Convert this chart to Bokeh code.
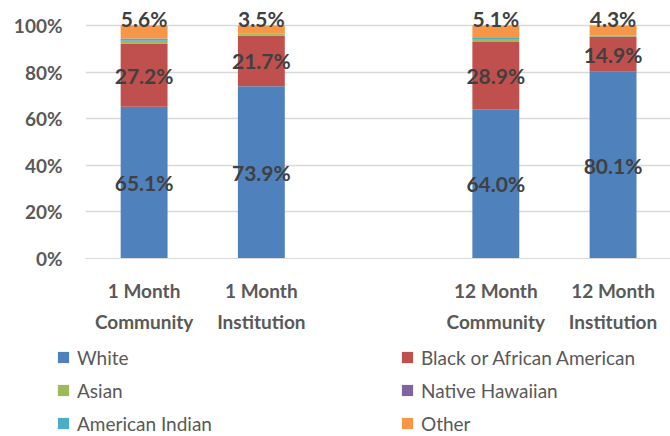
from bokeh.plotting import figure
from bokeh.models import (ColumnDataSource, Range1d, FixedTicker, Legend, LegendItem,
                          LabelSet)
from bokeh.layouts import column
from bokeh.core.properties import value
from bokeh.embed import file_html
from bokeh.resources import INLINE

# ---- data ----
categories = ["1 Month\nCommunity", "1 Month\nInstitution",
              "12 Month\nCommunity", "12 Month\nInstitution"]
series = ["White", "Black or African American", "Asian",
          "Native Hawaiian", "American Indian", "Other"]
white = [65.1, 73.9, 64.0, 80.1]
black = [27.2, 21.7, 28.9, 14.9]
asian = [1.0, 0.7, 0.9, 0.4]
native_hawaiian = [0.2, 0.1, 0.2, 0.1]
american_indian = [0.9, 0.1, 0.9, 0.2]
other = [5.6, 3.5, 5.1, 4.3]
yticks = [0, 20, 40, 60, 80, 100]

colors = ["#4F81BD", "#C0504D", "#9BBB59", "#8064A2", "#4BACC6", "#F79646"]
FONT = "Lato"

# x positions: a blank slot between the 1-month and 12-month groups
xs = [i + (1 if i >= 2 else 0) for i in range(len(categories))]

data = dict(x=xs)
values = [white, black, asian, native_hawaiian, american_indian, other]
for s, v in zip(series, values):
    data[s] = v
src = ColumnDataSource(data)

p = figure(width=670, height=351, min_border_left=85, min_border_right=0,
           min_border_top=0, min_border_bottom=93,
           x_range=Range1d(-0.5, 4.49), y_range=Range1d(0, 110.7),
           output_backend="svg", toolbar_location=None, outline_line_color=None)

rs = p.vbar_stack(series, x="x", width=0.4, source=src, color=colors, line_color=None)

# data labels
lab_x, lab_y, lab_t = [], [], []
for i, x in enumerate(xs):
    lab_x += [x, x, x]
    lab_y += [white[i] / 2, white[i] + black[i] / 2, 103.0]
    lab_t += [f"{white[i]:.1f}%", f"{black[i]:.1f}%", f"{other[i]:.1f}%"]
lsrc = ColumnDataSource(dict(x=lab_x, y=lab_y, t=lab_t))
labels = LabelSet(x="x", y="y", text="t", source=lsrc, text_align="center",
                  text_baseline="middle", text_font=value(FONT), text_font_style="bold",
                  text_font_size="21px", text_color="#404040")
p.add_layout(labels)

# axes
p.yaxis.ticker = FixedTicker(ticks=yticks)
p.yaxis.major_label_overrides = {t: f"{t}%" for t in yticks}
p.yaxis.axis_line_color = None
p.yaxis.major_tick_line_color = None
p.yaxis.minor_tick_line_color = None
p.yaxis.major_tick_out = 0
p.yaxis.major_label_standoff = 23
p.yaxis.major_label_text_font = FONT
p.yaxis.major_label_text_font_style = "bold"
p.yaxis.major_label_text_font_size = "19px"
p.yaxis.major_label_text_color = "#595959"

p.xaxis.ticker = FixedTicker(ticks=xs)
p.xaxis.major_label_overrides = {x: c for x, c in zip(xs, categories)}
p.xaxis.axis_line_color = "#D9D9D9"
p.xaxis.major_tick_line_color = None
p.xaxis.minor_tick_line_color = None
p.xaxis.major_tick_out = 0
p.xaxis.major_label_standoff = 20
p.xaxis.major_label_text_font = FONT
p.xaxis.major_label_text_font_style = "bold"
p.xaxis.major_label_text_font_size = "19px"
p.xaxis.major_label_text_color = "#595959"
p.xaxis.major_label_text_line_height = 1.35

p.xgrid.grid_line_color = None
p.ygrid.grid_line_color = "#D9D9D9"
p.ygrid.grid_line_width = 1.5

# legend in its own strip beneath the chart (its bars sit outside its ranges)
pl = figure(width=699, height=100, min_border=0, x_range=Range1d(-101, -100),
            y_range=Range1d(0, 1), x_axis_location=None, y_axis_location=None,
            output_backend="svg", toolbar_location=None, outline_line_color=None,
            margin=(-15, 0, 0, -29), background_fill_alpha=0, border_fill_alpha=0)
pl.grid.grid_line_color = None
lrs = pl.vbar_stack(series, x="x", width=0.4, source=src, color=colors, line_color=None)
items = [LegendItem(label=s, renderers=[r]) for s, r in zip(series, lrs)]
legend = Legend(items=items, orientation="horizontal", ncols=2,
                location=(0, 1), padding=0, margin=0, spacing=9,
                glyph_width=14, glyph_height=14, label_standoff=7,
                label_width=314, label_height=24,
                label_text_font=FONT, label_text_font_size="19px",
                label_text_color="#595959",
                border_line_color=None, background_fill_alpha=0)
pl.add_layout(legend, "center")

layout = column(p, pl, spacing=0)
open("out.html", "w").write(file_html(layout, INLINE))
